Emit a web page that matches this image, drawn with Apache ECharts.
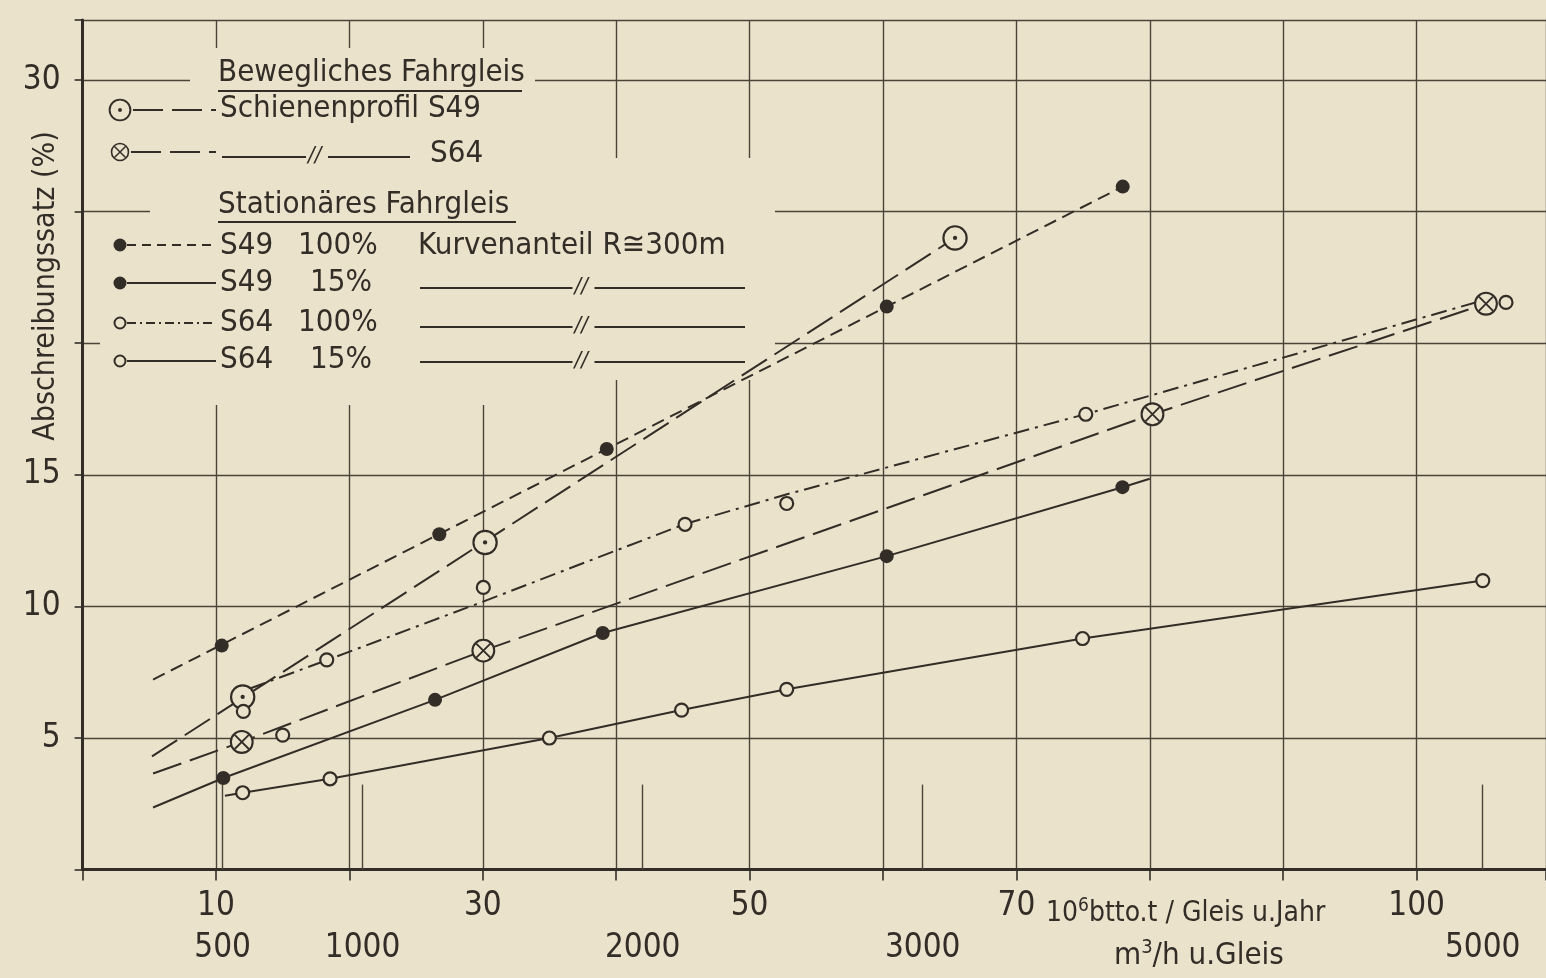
<!DOCTYPE html>
<html><head><meta charset="utf-8">
<script src="https://cdn.jsdelivr.net/npm/echarts@6/dist/echarts.min.js"></script>
<style>html,body{margin:0;padding:0;background:#ebe2cb;}#c{width:1546px;height:978px;}</style>
</head><body><div id="c"></div>
<script>
// ---- tick labels ----
const tonnageTickLabels = [10, 30, 50, 70, 100];          // 10^6 btto.t / Gleis u. Jahr
const flowTickLabels = [500, 1000, 2000, 3000, 5000];     // m3/h u. Gleis
const rateTickLabels = [5, 10, 15, 30];                   // Abschreibungssatz (%)

// ---- data: [10^6 t, %] ----
// Bewegliches Fahrgleis, Schienenprofil S49 (⊙)
const s49MovPoints = [[12.0, 6.56], [30.17, 12.43], [65.4, 24.0]];
const s49MovLine   = [[5.2, 4.30], [65.4, 24.0]];
// Bewegliches Fahrgleis, S64 (⊗)
const s64MovPoints = [[11.93, 4.85], [30.04, 8.32], [80.2, 17.3], [105.2, 21.5]];
const s64MovLine   = [[5.28, 3.65], [11.93, 4.85], [30.04, 8.32], [80.2, 17.3], [105.2, 21.5]];
// Stationäres Fahrgleis, S49 100 % Kurvenanteil (●, dashed)
const s49FullPoints = [[10.43, 8.51], [26.74, 12.74], [39.29, 15.98], [60.28, 21.39], [77.97, 25.95]];
const s49FullLine   = [[5.28, 7.22], [77.97, 25.95]];
// Stationäres Fahrgleis, S49 15 % (●, solid)
const s49LowPoints = [[10.55, 3.48], [26.42, 6.45], [38.99, 8.99], [60.28, 11.91], [77.95, 14.53]];
const s49LowLine   = [[5.28, 2.36], [10.55, 3.48], [26.42, 6.45], [38.99, 8.99], [60.28, 11.91], [77.95, 14.53], [80.0, 14.85]];
// Stationäres Fahrgleis, S64 100 % (○, dash-dot)
const s64FullPoints = [[12.05, 6.01], [15.0, 5.11], [18.3, 7.97], [30.04, 10.72], [45.16, 13.12], [52.78, 13.91], [75.2, 17.3], [106.7, 21.55]];
const s64FullLine   = [[12.55, 6.88], [18.32, 7.96], [30.02, 10.18], [45.16, 13.13], [52.8, 14.26], [75.29, 17.32], [105.2, 21.66]];
// Stationäres Fahrgleis, S64 15 % (○, solid)
const s64LowPoints = [[12.0, 2.92], [18.55, 3.45], [34.99, 5.0], [44.9, 6.06], [52.78, 6.85], [74.96, 8.78], [104.96, 10.98]];
const s64LowLine   = [[10.67, 2.81], [12.0, 2.92], [18.55, 3.45], [34.99, 5.0], [44.9, 6.06], [52.78, 6.85], [74.96, 8.78], [104.96, 10.98]];

// ---- styling ----
const INK = '#332d27', PAPER = '#ebe2cb', GRID = '#4b443b';
const FONT = "'DejaVu Sans Condensed','Liberation Sans Narrow','DejaVu Sans',sans-serif";
const svgUrl = s => 'data:image/svg+xml;charset=utf-8,' + encodeURIComponent(s);
const dotCircle = svgUrl(`<svg xmlns="http://www.w3.org/2000/svg" width="26" height="26" viewBox="0 0 26 26"><circle cx="13" cy="13" r="10.8" fill="${PAPER}" stroke="${INK}" stroke-width="2"/><circle cx="13" cy="13" r="2" fill="${INK}"/></svg>`);
const crossCircle = svgUrl(`<svg xmlns="http://www.w3.org/2000/svg" width="26" height="26" viewBox="0 0 26 26"><circle cx="13" cy="13" r="10.5" fill="${PAPER}" stroke="${INK}" stroke-width="2"/><path d="M6.2 6.2 L19.8 19.8 M19.8 6.2 L6.2 19.8" stroke="${INK}" stroke-width="1.8"/></svg>`);

const DASH_LONG = [30, 9], DASH_SHORT = [13, 7], DASH_DOT = [16, 6, 3, 6];

function lineSeries(name, data, type) {
  return { name, type: 'line', data, showSymbol: false, z: 5, silent: true,
    lineStyle: { color: INK, width: 2, type } };
}
function pointSeries(name, data, symbol, size, filled) {
  return { name, type: 'scatter', data, symbol, symbolSize: size, z: 6,
    itemStyle: { color: filled ? INK : PAPER, borderColor: INK, borderWidth: filled ? 0 : 2.2, opacity: 1 } };
}

const chart = echarts.init(document.getElementById('c'), null, { renderer: 'canvas' });

// legend drawing helpers (graphic elements)
const G = [];
const TS = 31;
function txt(x, y, text, size, extra) {
  G.push(Object.assign({ type: 'text', z: 20, x, y,
    style: { text, fill: INK, font: `${size || TS}px ${FONT}`, textVerticalAlign: 'middle', textAlign: 'left' } }, extra || {}));
}
function ln(x1, y1, x2, y2, dash, w) {
  G.push({ type: 'line', z: 20, shape: { x1, y1, x2, y2 },
    style: { stroke: INK, lineWidth: w || 2, lineDash: dash || null } });
}
function cover(x, y, w, h) {
  G.push({ type: 'rect', z: 1, shape: { x, y, width: w, height: h }, style: { fill: PAPER } });
}
function img(cx, cy, url, s) {
  G.push({ type: 'image', z: 21, style: { image: url, x: cx - s / 2, y: cy - s / 2, width: s, height: s } });
}
function dot(cx, cy, r, filled) {
  G.push({ type: 'circle', z: 21, shape: { cx, cy, r },
    style: { fill: filled ? INK : PAPER, stroke: INK, lineWidth: filled ? 0 : 2 } });
}
function ditto(x1, x2, y) {
  const mid = (x1 + x2) / 2;
  ln(x1, y, mid - 10, y, null, 2.2);
  ln(mid + 12, y, x2, y, null, 2.2);
  G.push({ type: 'text', z: 20, x: mid - 8, y: y - 1,
    style: { text: '//', fill: INK, font: `italic 22px ${FONT}`, textVerticalAlign: 'middle', textAlign: 'left' } });
}

// paper gaps in the grid behind the legend
cover(190, 48, 345, 152);
cover(150, 200, 455, 205);
cover(600, 158, 175, 222);
cover(100, 330, 50, 30);

txt(218, 73, 'Bewegliches Fahrgleis', 31);
ln(218, 91, 522, 91, null, 1.8);
img(120, 110, dotCircle, 25);
ln(133, 110, 216, 110, DASH_LONG, 2);
txt(220, 109, 'Schienenprofil S49');
img(120, 152, crossCircle, 21);
ln(131, 152, 216, 152, DASH_LONG, 2);
ditto(222, 410, 157);
txt(430, 154, 'S64');

txt(218, 205, 'Stationäres Fahrgleis', 31);
ln(218, 222, 516, 222, null, 1.8);
dot(120, 245, 6.5, true);
ln(127, 245, 216, 245, [9, 6], 2);
txt(220, 246, 'S49'); txt(298, 246, '100%');
txt(418, 246, 'Kurvenanteil R≅300m');
dot(120, 283, 6.5, true);
ln(127, 283, 216, 283, null, 2);
txt(220, 283, 'S49'); txt(310, 283, '15%');
ditto(420, 745, 288);
dot(120, 323, 5.5, false);
ln(127, 323, 216, 323, [9, 4, 2, 4], 2);
txt(220, 323, 'S64'); txt(298, 323, '100%');
ditto(420, 745, 327);
dot(120, 361, 5.5, false);
ln(127, 361, 216, 361, null, 2);
txt(220, 360, 'S64'); txt(310, 360, '15%');
ditto(420, 745, 362);

// axis titles
G.push({ type: 'text', z: 20, x: 46, y: 286, rotation: Math.PI / 2,
  style: { text: 'Abschreibungssatz (%)', fill: INK, font: `30px ${FONT}`, textAlign: 'center', textVerticalAlign: 'middle' } });
G.push({ type: 'text', z: 20, x: 1046, y: 914,
  style: { text: '10{s|6}btto.t / Gleis u.Jahr', fill: INK, font: `28px ${FONT}`, textVerticalAlign: 'middle',
    rich: { s: { fontSize: 19, fontFamily: FONT, fill: INK, padding: [0, 0, 16, 0] } } } });
G.push({ type: 'text', z: 20, x: 1114, y: 956,
  style: { text: 'm{s|3}/h u.Gleis', fill: INK, font: `31px ${FONT}`, textVerticalAlign: 'middle',
    rich: { s: { fontSize: 20, fontFamily: FONT, fill: INK, padding: [0, 0, 17, 0] } } } });

const labelStyle = { color: INK, fontSize: 33, fontFamily: FONT, formatter: v => String(v) };
const option = {
  backgroundColor: PAPER,
  animation: false,
  grid: { left: 82.6, right: 0, top: 20, bottom: 108.4, containLabel: false },
  xAxis: [
    { type: 'value', min: 0, max: 109.7, interval: 10,
      axisLine: { show: true, onZero: false, lineStyle: { color: INK, width: 3 } },
      axisTick: { show: true, length: 11, lineStyle: { color: INK, width: 1.6 } },
      axisLabel: Object.assign({ customValues: tonnageTickLabels, margin: 20 }, labelStyle),
      splitLine: { show: true, lineStyle: { color: GRID, width: 1.4 } } },
    { type: 'value', position: 'bottom', min: 0, max: 5226, interval: 500,
      axisLine: { show: false },
      axisTick: { show: true, inside: true, length: 85, customValues: flowTickLabels, lineStyle: { color: GRID, width: 1.4 } },
      axisLabel: Object.assign({ customValues: flowTickLabels, margin: 62 }, labelStyle),
      splitLine: { show: false } }
  ],
  yAxis: { type: 'value', min: 0, max: 32.28, interval: 5,
    axisLine: { show: true, onZero: false, lineStyle: { color: INK, width: 3 } },
    axisTick: { show: true, length: 8, lineStyle: { color: INK, width: 1.6 } },
    axisLabel: Object.assign({ customValues: rateTickLabels, margin: 22 }, labelStyle),
    splitLine: { show: true, lineStyle: { color: GRID, width: 1.4 } } },
  series: [
    lineSeries('S49 beweglich', s49MovLine, DASH_LONG),
    lineSeries('S64 beweglich', s64MovLine, DASH_LONG),
    lineSeries('S49 100%', s49FullLine, DASH_SHORT),
    lineSeries('S49 15%', s49LowLine, 'solid'),
    lineSeries('S64 100%', s64FullLine, DASH_DOT),
    lineSeries('S64 15%', s64LowLine, 'solid'),
    pointSeries('S49 beweglich', s49MovPoints, 'image://' + dotCircle, 28, false),
    pointSeries('S64 beweglich', s64MovPoints, 'image://' + crossCircle, 27, false),
    pointSeries('S49 100%', s49FullPoints, 'circle', 14, true),
    pointSeries('S49 15%', s49LowPoints, 'circle', 14, true),
    pointSeries('S64 100%', s64FullPoints, 'circle', 13, false),
    pointSeries('S64 15%', s64LowPoints, 'circle', 13, false)
  ],
  graphic: { elements: G }
};
chart.setOption(option);
</script></body></html>
